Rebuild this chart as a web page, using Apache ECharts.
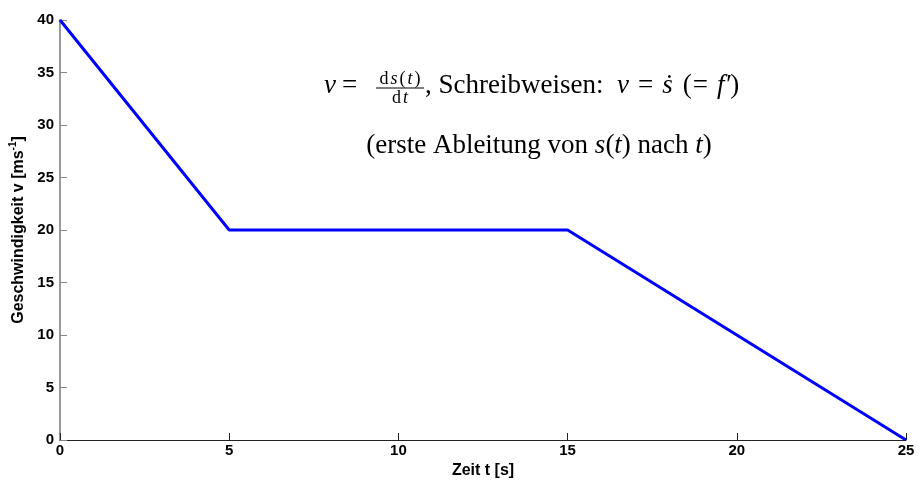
<!DOCTYPE html>
<html>
<head>
<meta charset="utf-8">
<script src="https://cdn.jsdelivr.net/npm/echarts@6/dist/echarts.min.js"></script>
<style>
  html, body { margin: 0; padding: 0; background: #fff; }
  #chart { width: 922px; height: 488px; }
</style>
</head>
<body>
<div id="chart"></div>
<script>
// Velocity profile: time (s) vs. speed (m/s)
const timeValues = [0, 5, 15, 25];
const speedValues = [40, 20, 20, 0];
const xTicks = { min: 0, max: 25, step: 5 };
const yTicks = { min: 0, max: 40, step: 5 };

const serif = '"Liberation Serif", "DejaVu Serif", serif';
const sans = '"Liberation Sans", Arial, sans-serif';

const chart = echarts.init(document.getElementById('chart'), null, { renderer: 'canvas' });

const points = timeValues.map((t, i) => [t, speedValues[i]]);

// rich-text styles for the formula annotations
function formulaRich(size, pad, opPad) {
  return {
    i: { fontFamily: serif, fontStyle: 'italic', fontSize: size, fill: '#000', padding: [0, pad] },
    n: { fontFamily: serif, fontSize: size, fill: '#000', padding: [0, pad] },
    o: { fontFamily: serif, fontSize: size, fill: '#000', padding: [0, opPad] },
    // "=" directly after an opening bracket
    q: { fontFamily: serif, fontSize: size, fill: '#000', padding: [0, opPad, 0, 1] },
    // opening bracket with a wider gap in front
    b: { fontFamily: serif, fontSize: size, fill: '#000', padding: [0, 0, 0, 10] }
  };
}

chart.setOption({
  animation: false,
  backgroundColor: '#ffffff',
  grid: { left: 60, right: 16, top: 20, bottom: 48, containLabel: false, outerBoundsMode: 'none' },
  xAxis: {
    type: 'value',
    min: xTicks.min, max: xTicks.max, interval: xTicks.step,
    name: 'Zeit t [s]',
    nameLocation: 'middle',
    nameGap: 22,
    nameTextStyle: { fontFamily: sans, fontWeight: 'bold', fontSize: 16, color: '#000' },
    axisLine: { show: true, onZero: false, lineStyle: { color: '#222', width: 1 } },
    axisTick: { show: true, inside: true, length: 7, lineStyle: { color: '#222', width: 1 } },
    axisLabel: { fontFamily: sans, fontWeight: 'bold', fontSize: 15, color: '#000', margin: 3 },
    splitLine: { show: false }
  },
  yAxis: {
    type: 'value',
    min: yTicks.min, max: yTicks.max, interval: yTicks.step,
    name: '{a|Geschwindigkeit v [ms}{s|-1}{a|]}',
    nameLocation: 'middle',
    nameGap: 30,
    nameRotate: 90,
    nameTextStyle: {
      rich: {
        a: { fontFamily: sans, fontWeight: 'bold', fontSize: 16, color: '#000' },
        s: { fontFamily: sans, fontWeight: 'bold', fontSize: 10, color: '#000', padding: [0, 0, 10, 0] }
      }
    },
    axisLine: { show: true, onZero: false, lineStyle: { color: '#999', width: 2 } },
    axisTick: { show: true, inside: true, length: 7, lineStyle: { color: '#888', width: 1 } },
    axisLabel: { fontFamily: sans, fontWeight: 'bold', fontSize: 15, color: '#000', margin: 6 },
    splitLine: { show: false }
  },
  series: [{
    type: 'line',
    data: points,
    showSymbol: false,
    symbol: 'none',
    lineStyle: { color: '#0000ff', width: 3 },
    z: 5
  }],
  graphic: [
    // "v =" before the fraction
    {
      type: 'text', x: 324, y: 86,
      style: {
        text: '{i|v}{o|=}',
        align: 'left', verticalAlign: 'middle',
        rich: formulaRich(27, 0, 6)
      }
    },
    // fraction ds(t) / dt
    {
      type: 'text', x: 400, y: 79,
      style: {
        text: '{n|d}{i|s}{n|(}{i|t}{n|)}',
        align: 'center', verticalAlign: 'middle',
        rich: formulaRich(18, 1, 1)
      }
    },
    {
      type: 'line',
      shape: { x1: 376, y1: 88, x2: 424, y2: 88 },
      style: { stroke: '#000', lineWidth: 1 }
    },
    {
      type: 'text', x: 400, y: 98,
      style: {
        text: '{n|d}{i|t}',
        align: 'center', verticalAlign: 'middle',
        rich: formulaRich(18, 1, 1)
      }
    },
    // remainder of the first line
    {
      type: 'text', x: 425, y: 86,
      style: {
        text: '{n|, Schreibweisen:  }{i|v}{o|=}{i|ṡ}{b|(}{q|=}{i|f′}{n|)}',
        align: 'left', verticalAlign: 'middle',
        rich: formulaRich(27, 0, 9)
      }
    },
    // second line
    {
      type: 'text', x: 539, y: 146,
      style: {
        text: '{n|(erste Ableitung von }{i|s}{n|(}{i|t}{n|) nach }{i|t}{n|)}',
        align: 'center', verticalAlign: 'middle',
        rich: formulaRich(27, 0, 0)
      }
    }
  ]
});
</script>
</body>
</html>
